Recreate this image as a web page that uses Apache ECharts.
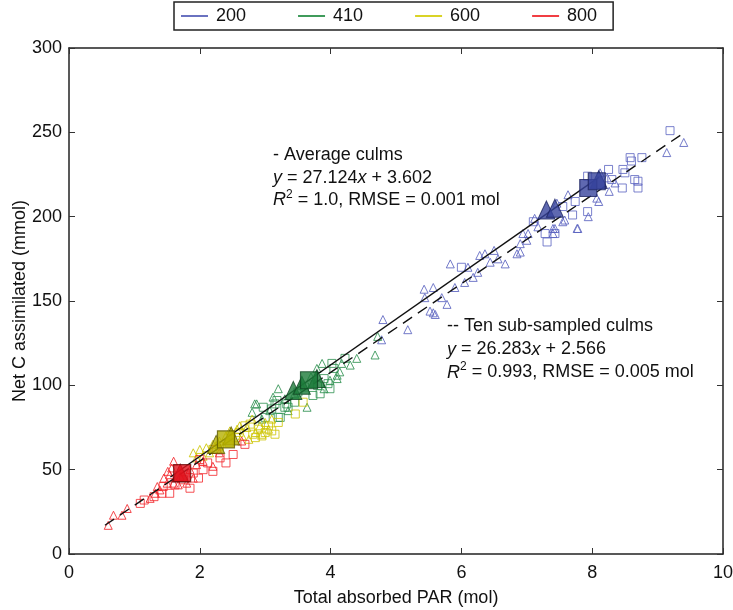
<!DOCTYPE html>
<html><head><meta charset="utf-8">
<script src="https://cdn.jsdelivr.net/npm/echarts@6/dist/echarts.min.js"></script>
<style>html,body{margin:0;padding:0;background:#fff}#c{width:733px;height:610px}</style>
</head><body><div id="c"></div>
<script>
// ---- data ----
var seriesNames = ['200','410','600','800'];
var xTicks = [0,2,4,6,8,10];
var yTicks = [0,50,100,150,200,250,300];

var blueTri = [[4.8,139],[4.78,127],[5.18,133],[5.44,152],[5.57,158],[5.52,144],[5.6,142],[5.43,157],[5.7,152],[5.83,172],[5.9,158],[5.78,148],[5.57,143],[6.05,161],[6.18,164],[6.25,167],[6.28,177],[6.36,178],[6.56,175],[6.44,173],[6.67,172],[6.85,178],[6.9,179],[6.9,184],[7.0,186],[7.02,190],[6.94,190],[7.12,199],[7.43,193],[7.4,190],[7.55,197],[7.77,193],[8.12,226],[8.23,223],[8.26,215],[8.35,220],[7.63,213],[7.46,208],[8.1,209],[8.07,211],[7.94,200],[7.78,193],[9.14,238],[9.4,244],[7.17,194],[7.58,198],[7.4,193],[6.1,170],[6.5,180]];
var blueSq = [[6.0,170],[7.28,190],[7.31,185],[7.43,190],[7.93,224],[8.58,235],[8.6,233],[8.47,228],[8.5,226],[8.65,222],[8.7,221],[8.7,217],[8.76,235],[9.19,251],[8.46,217],[7.93,203],[7.74,209],[7.55,206],[7.1,197],[8.3,222],[7.7,201],[8.25,228]];
var greenTri = [[2.8,84],[2.84,89],[2.87,89],[3.07,85],[3.2,98],[3.12,93],[3.3,92],[3.45,95],[3.64,87],[3.79,110],[3.87,113],[3.99,103],[4.1,104],[4.14,108],[4.17,113],[4.1,106],[4.4,116],[4.68,118],[4.72,129],[3.55,100],[3.7,105],[3.9,98],[4.3,112],[3.35,85],[2.95,80]];
var greenSq = [[2.97,87],[3.0,81],[3.15,89],[3.18,91],[3.2,81],[3.23,81],[3.3,87],[3.33,89],[3.35,87],[3.73,94],[3.8,100],[3.84,95],[3.96,101],[3.99,98],[4.02,113],[4.22,116],[3.5,96],[3.6,99],[3.9,104],[4.05,110],[3.45,90],[3.1,86]];
var yellowTri = [[1.9,60],[1.95,57],[2.0,62],[2.05,58],[2.1,63],[2.2,65],[2.3,67],[2.46,73],[2.57,74],[2.61,76],[2.72,75],[2.8,80],[2.92,76],[2.85,72],[3.0,78],[3.05,74],[2.65,70],[2.4,70],[2.15,60],[3.1,80],[2.75,68],[2.95,71]];
var yellowSq = [[2.2,62],[2.3,64],[2.45,66],[2.55,69],[2.69,76],[2.77,77],[2.81,71],[2.9,74],[2.95,70],[3.0,72],[3.05,76],[3.1,73],[3.2,78],[3.46,83],[3.58,90],[2.6,72],[2.85,69],[3.15,71]];
var redTri = [[0.6,17],[0.68,23],[0.81,23],[0.89,27],[1.24,33],[1.32,36],[1.39,38],[1.5,42],[1.51,49],[1.54,47],[1.57,51],[1.6,42],[1.67,41],[1.8,42],[1.45,45],[1.35,40],[1.7,46],[1.85,50],[1.95,53],[2.05,55],[2.2,52],[2.64,67],[1.9,45],[1.6,55],[2.3,60]];
var redSq = [[1.09,30],[1.15,32],[1.42,36],[1.44,40],[1.54,36],[1.62,41],[1.75,44],[1.9,48],[1.98,45],[2.05,50],[2.12,54],[2.2,49],[2.31,57],[2.4,54],[2.51,59],[2.69,65],[1.3,34],[1.85,39],[2.0,56],[2.25,62]];

var avgTri = [[[7.3,204],[7.43,205],[8.1,222]], [[3.43,97],[3.56,100],[3.79,104]], [[2.25,65],[2.48,70]], [[1.7,48]]];
var avgSq  = [[[7.94,217],[8.07,221]], [[3.67,103]], [[2.4,68]], [[1.73,48]]];

var avgFitCoef = [27.124, 3.602];
var avgFitX = [1.55, 8.1];
var subFitCoef = [26.283, 2.566];
var subFitX = [0.55, 9.4];

// ---- style ----
var lineColors = ['#5059b5','#1f8a3e','#d2cb00','#ee1c22'];
var smallColors = ['#5a63c0','#2e9150','#cdc400','#f2262b'];
var bigFill = ['#37449c','#1c7a3a','#b5b000','#e0121b'];
var bigBorder = ['#1c2360','#0e4420','#5e5a00','#6e0a0a'];
var FONT = 'Liberation Sans, Arial, Helvetica, sans-serif';

var smallTri = [blueTri, greenTri, yellowTri, redTri];
var smallSq = [blueSq, greenSq, yellowSq, redSq];

var series = [];
for (var i = 0; i < 4; i++) {
  series.push({type:'scatter', name:seriesNames[i], data:smallTri[i], symbol:'triangle', symbolSize:[8,8], z:2,
    itemStyle:{color:'rgba(0,0,0,0)', borderColor:smallColors[i], borderWidth:1, opacity:0.85}});
  series.push({type:'scatter', name:seriesNames[i]+'s', data:smallSq[i], symbol:'rect', symbolSize:[8,8], z:2,
    itemStyle:{color:'rgba(0,0,0,0)', borderColor:smallColors[i], borderWidth:1, opacity:0.8}});
}
function fit(coef, xs){ return xs.map(function(x){ return [x, coef[0]*x + coef[1]]; }); }
series.push({type:'line', name:'avgFit', data:fit(avgFitCoef, avgFitX), symbol:'none', z:3,
  lineStyle:{color:'#111', width:1.4, type:'solid'}});
series.push({type:'line', name:'subFit', data:fit(subFitCoef, subFitX), symbol:'none', z:3,
  lineStyle:{color:'#111', width:1.4, type:[11,7]}});
for (var j = 3; j >= 0; j--) {
  series.push({type:'scatter', name:'bt'+j, data:avgTri[j], symbol:'triangle', symbolSize:[17,18], z:4,
    itemStyle:{color:bigFill[j], borderColor:bigBorder[j], borderWidth:1}});
  series.push({type:'scatter', name:'bs'+j, data:avgSq[j], symbol:'rect', symbolSize:[17,17], z:4,
    itemStyle:{color:bigFill[j], borderColor:bigBorder[j], borderWidth:1.2}});
}

var axisLine = {show:true, onZero:false, lineStyle:{color:'#222', width:1.5}};
var tick = {show:true, inside:true, length:6, lineStyle:{color:'#333', width:1}};
var lab = {color:'#111', fontSize:18, fontFamily:FONT};

var chart = echarts.init(document.getElementById('c'), null, {renderer:'canvas'});
chart.setOption({
  animation:false,
  backgroundColor:'#fff',
  grid:{left:69, right:10, top:48, bottom:56, show:false, containLabel:false, outerBoundsMode:'none'},
  legend:{
    data: seriesNames.map(function(n,i){ return {name:n, icon:'rect', itemStyle:{color:lineColors[i], borderWidth:0}}; }),
    left:174, top:2, itemWidth:27, itemHeight:2, itemGap:52,
    padding:[5,16,5,7], borderColor:'#222', borderWidth:1.5,
    textStyle:{color:'#111', fontSize:18, fontFamily:FONT, padding:[0,0,0,3]},
    selectedMode:false
  },
  xAxis:[
    {type:'value', min:0, max:10, interval:2, position:'bottom', axisLine:axisLine, axisTick:tick, splitLine:{show:false},
     axisLabel:Object.assign({margin:10, formatter:function(v){return String(v);}}, lab),
     name:'Total absorbed PAR (mol)', nameLocation:'middle', nameGap:35, nameTextStyle:lab},
    {type:'value', min:0, max:10, interval:2, position:'top', axisLine:axisLine, axisTick:tick, splitLine:{show:false}, axisLabel:{show:false}}
  ],
  yAxis:[
    {type:'value', min:0, max:300, interval:50, position:'left', axisLine:axisLine, axisTick:tick, splitLine:{show:false},
     axisLabel:Object.assign({margin:7}, lab),
     name:'Net C assimilated (mmol)', nameLocation:'middle', nameGap:40, nameTextStyle:lab, nameMoveOverlap:false},
    {type:'value', min:0, max:300, interval:50, position:'right', axisLine:axisLine, axisTick:tick, splitLine:{show:false}, axisLabel:{show:false}}
  ],
  series: series,
  graphic:[
    {type:'text', left:273, top:144, z:10, style:{
      text:'- Average culms\n{i|y} = 27.124{i|x} + 3.602\n{i|R}{s|2} = 1.0, RMSE = 0.001 mol',
      font:'18px ' + FONT, fill:'#111', lineHeight:22.5,
      rich:{i:{fontStyle:'italic', fontSize:18, fontFamily:FONT, fill:'#111'}, s:{fontSize:12, fontFamily:FONT, fill:'#111', verticalAlign:'top', padding:[0,0,8,0]}}
    }},
    {type:'text', left:447, top:315, z:10, style:{
      text:'-- Ten sub-sampled culms\n{i|y} = 26.283{i|x} + 2.566\n{i|R}{s|2} = 0.993, RMSE = 0.005 mol',
      font:'18px ' + FONT, fill:'#111', lineHeight:23,
      rich:{i:{fontStyle:'italic', fontSize:18, fontFamily:FONT, fill:'#111'}, s:{fontSize:12, fontFamily:FONT, fill:'#111', verticalAlign:'top', padding:[0,0,8,0]}}
    }}
  ]
});
</script></body></html>
